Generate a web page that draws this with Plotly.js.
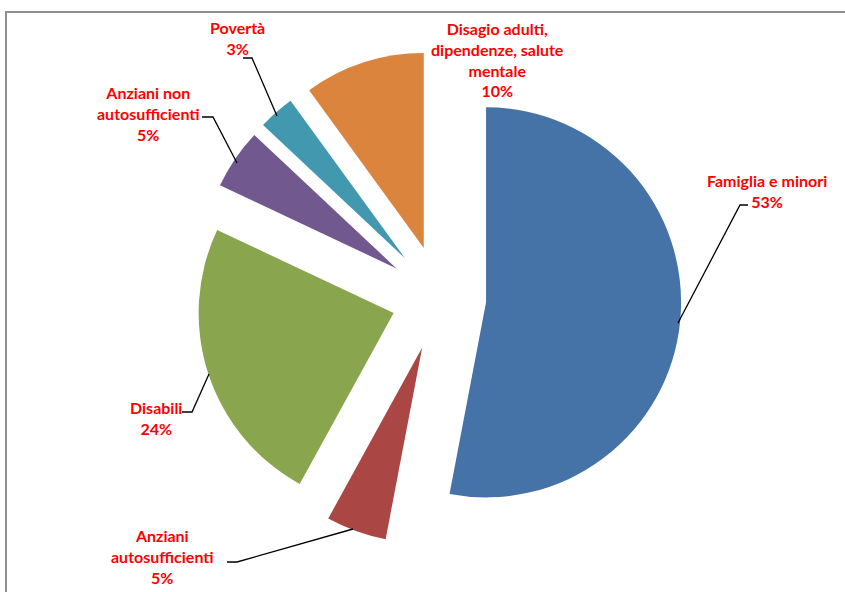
<!DOCTYPE html>
<html>
<head>
<meta charset="utf-8">
<script src="https://cdn.plot.ly/plotly-3.0.1.min.js"></script>
<style>
  html, body { margin: 0; padding: 0; background: #fff; }
  #chart { width: 845px; height: 592px; }
</style>
</head>
<body>
<div id="chart"></div>
<script>
// Data
var categories = ["Famiglia e minori", "Anziani autosufficienti", "Disabili",
                  "Anziani non autosufficienti", "Povertà", "Disagio adulti, dipendenze, salute mentale"];
var labelLines = [["Famiglia e minori"], ["Anziani", "autosufficienti"], ["Disabili"],
                  ["Anziani non", "autosufficienti"], ["Povertà"], ["Disagio adulti,", "dipendenze, salute", "mentale"]];
var values = [53, 5, 24, 5, 3, 10];
var colors = ["#4572A7", "#AA4643", "#89A54E", "#71588F", "#4198AF", "#DB843D"];
var pulls = [0.237, 0.27, 0.25, 0.27, 0.27, 0.27];

var W = 845, H = 592;
function px(x) { return x / W; }
function py(y) { return 1 - y / H; }

// label placement (pixels) and leader lines (pixels)
var labelPos = [
  {x: 767, y: 191},
  {x: 162, y: 556},
  {x: 156, y: 418},
  {x: 148, y: 113},
  {x: 237, y: 38},
  {x: 497, y: 59}
];
var leaders = [
  [[748, 205], [740, 205], [678, 323]],
  [[227, 562], [237, 562], [353, 529]],
  [[182, 412], [192, 412], [209, 374]],
  [[202, 117], [213, 117], [237, 163]],
  [[243, 58], [252, 58], [277, 116]],
  null
];

var annotations = categories.map(function (c, i) {
  var txt = labelLines[i].concat([values[i] + "%"]).join("<br>");
  return {
    xref: "paper", yref: "paper",
    x: px(labelPos[i].x), y: py(labelPos[i].y),
    xanchor: "center", yanchor: "middle",
    text: txt, showarrow: false,
    align: "center",
    font: {family: "Lato, 'Open Sans', sans-serif", size: 16, color: "#FF0000", weight: "bold"}
  };
});

var shapes = [];
leaders.forEach(function (pts) {
  if (!pts) return;
  var d = pts.map(function (p, k) { return (k ? "L" : "M") + px(p[0]) + "," + py(p[1]); }).join(" ");
  shapes.push({type: "path", xref: "paper", yref: "paper", path: d,
               line: {color: "#000000", width: 1.3}});
});
// chart frame
shapes.push({type: "rect", xref: "paper", yref: "paper",
             x0: px(6), y0: py(620), x1: px(870), y1: py(12),
             line: {color: "#8E8E8E", width: 2}, fillcolor: "rgba(0,0,0,0)"});

var trace = {
  type: "pie",
  labels: categories,
  values: values,
  sort: false,
  direction: "clockwise",
  rotation: 0,
  pull: pulls,
  marker: {colors: colors, line: {width: 0}},
  textinfo: "none",
  hoverinfo: "none",
  domain: {x: [0.1515, 0.89], y: [0.0782, 0.915]},
  showlegend: false
};

var layout = {
  width: W, height: H,
  margin: {l: 0, r: 0, t: 0, b: 0},
  paper_bgcolor: "#FFFFFF",
  showlegend: false,
  annotations: annotations,
  shapes: shapes
};

Plotly.newPlot("chart", [trace], layout, {staticPlot: true, displayModeBar: false});
</script>
</body>
</html>
